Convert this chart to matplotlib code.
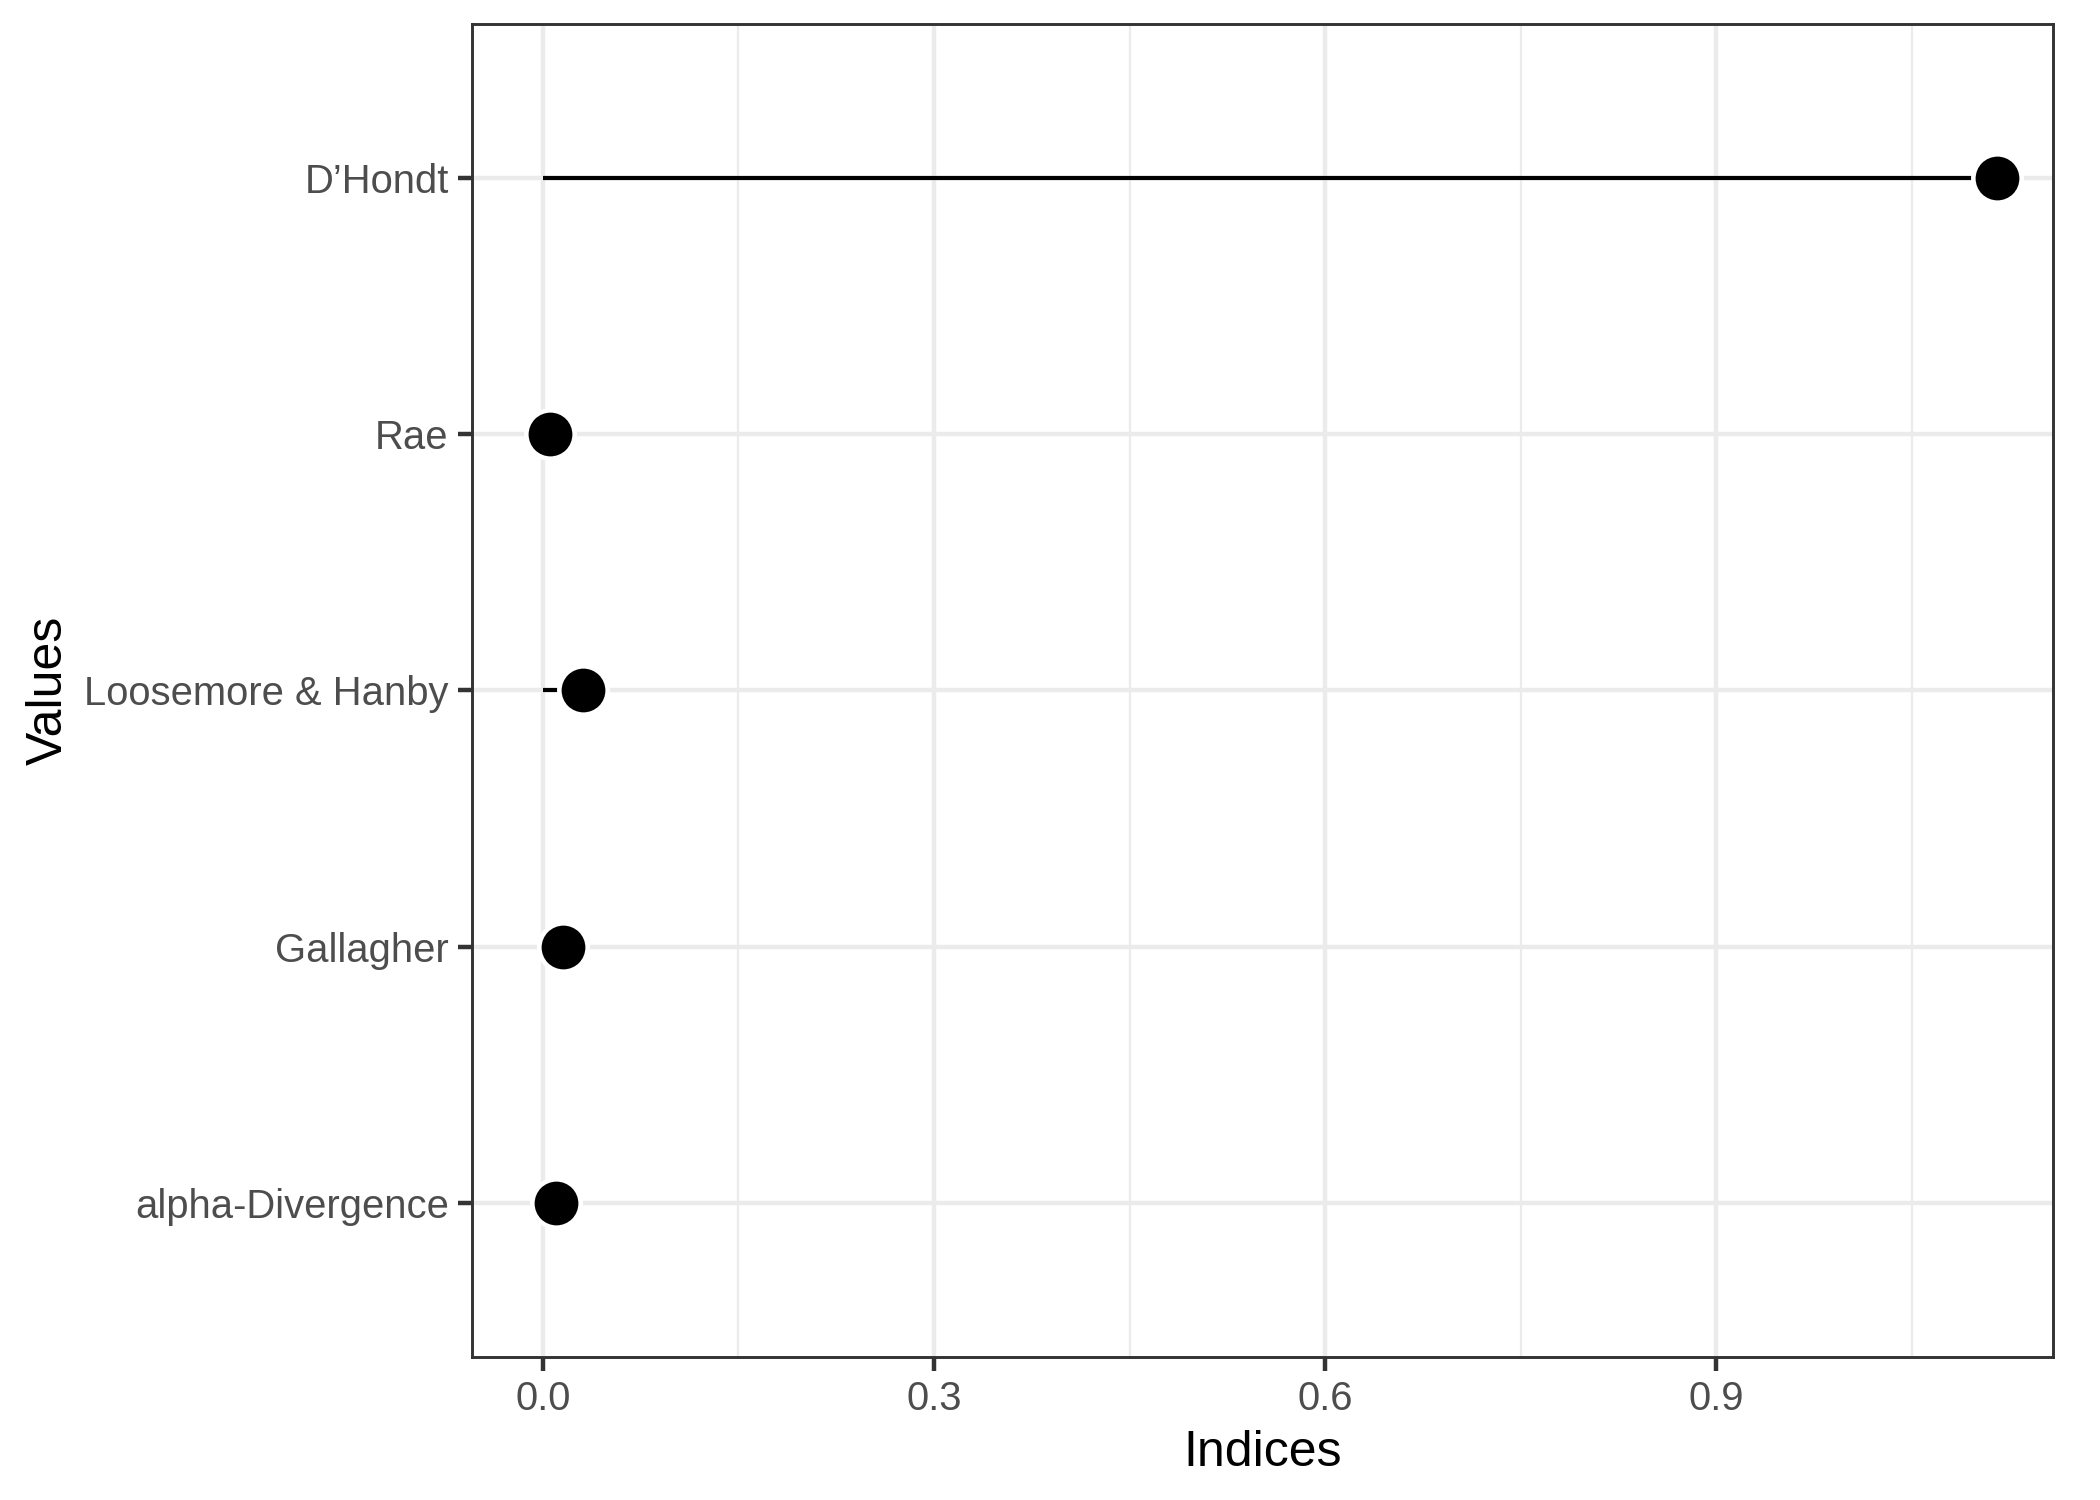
import matplotlib
matplotlib.use("Agg")
import matplotlib.pyplot as plt
from matplotlib.ticker import MultipleLocator

categories = ["alpha-Divergence", "Gallagher", "Loosemore & Hanby", "Rae", "D\u2019Hondt"]
values = [0.0097, 0.0153, 0.0306, 0.0051, 1.1152]

plt.rcParams['font.family'] = ['Liberation Sans', 'DejaVu Sans']

fig = plt.figure(figsize=(7, 5), dpi=300)
ax = fig.add_axes([0.2246, 0.0956, 0.7532, 0.8884])

ypos = list(range(len(categories)))
for y, v in zip(ypos, values):
    ax.plot([0, v], [y, y], color="black", lw=1.0, solid_capstyle="butt", zorder=3)
ax.plot(values, ypos, linestyle="none", marker="o", markersize=11.6,
        markerfacecolor="black", markeredgecolor="white", markeredgewidth=1.1, zorder=4)

vmax = max(values)
vmin = 0.0
rng = vmax - vmin
ax.set_xlim(vmin - 0.049 * rng, vmax + 0.039 * rng)
ax.set_ylim(-0.6, len(categories) - 1 + 0.6)

ax.xaxis.set_minor_locator(MultipleLocator(0.15))
ax.set_xticks([0.0, 0.3, 0.6, 0.9])
ax.set_xticklabels(["0.0", "0.3", "0.6", "0.9"])
ax.set_yticks(ypos)
ax.set_yticklabels(categories)

ax.grid(which="major", axis="both", color="#EBEBEB", lw=1.07, zorder=0)
ax.grid(which="minor", axis="x", color="#EBEBEB", lw=0.53, zorder=0)
ax.set_axisbelow(True)

for s in ax.spines.values():
    s.set_color("#333333")
    s.set_linewidth(0.7)

ax.tick_params(axis="both", which="major", length=3.3, width=1.07, color="#333333",
               labelsize=9.6, labelcolor="#4D4D4D", pad=2.2)
ax.tick_params(axis="x", which="minor", length=0)

ax.set_xlabel("Indices", fontsize=12, color="black", labelpad=3)
ax.set_ylabel("Values", fontsize=12, color="black", labelpad=3)

fig.savefig("out.png", dpi=300, facecolor="white")
